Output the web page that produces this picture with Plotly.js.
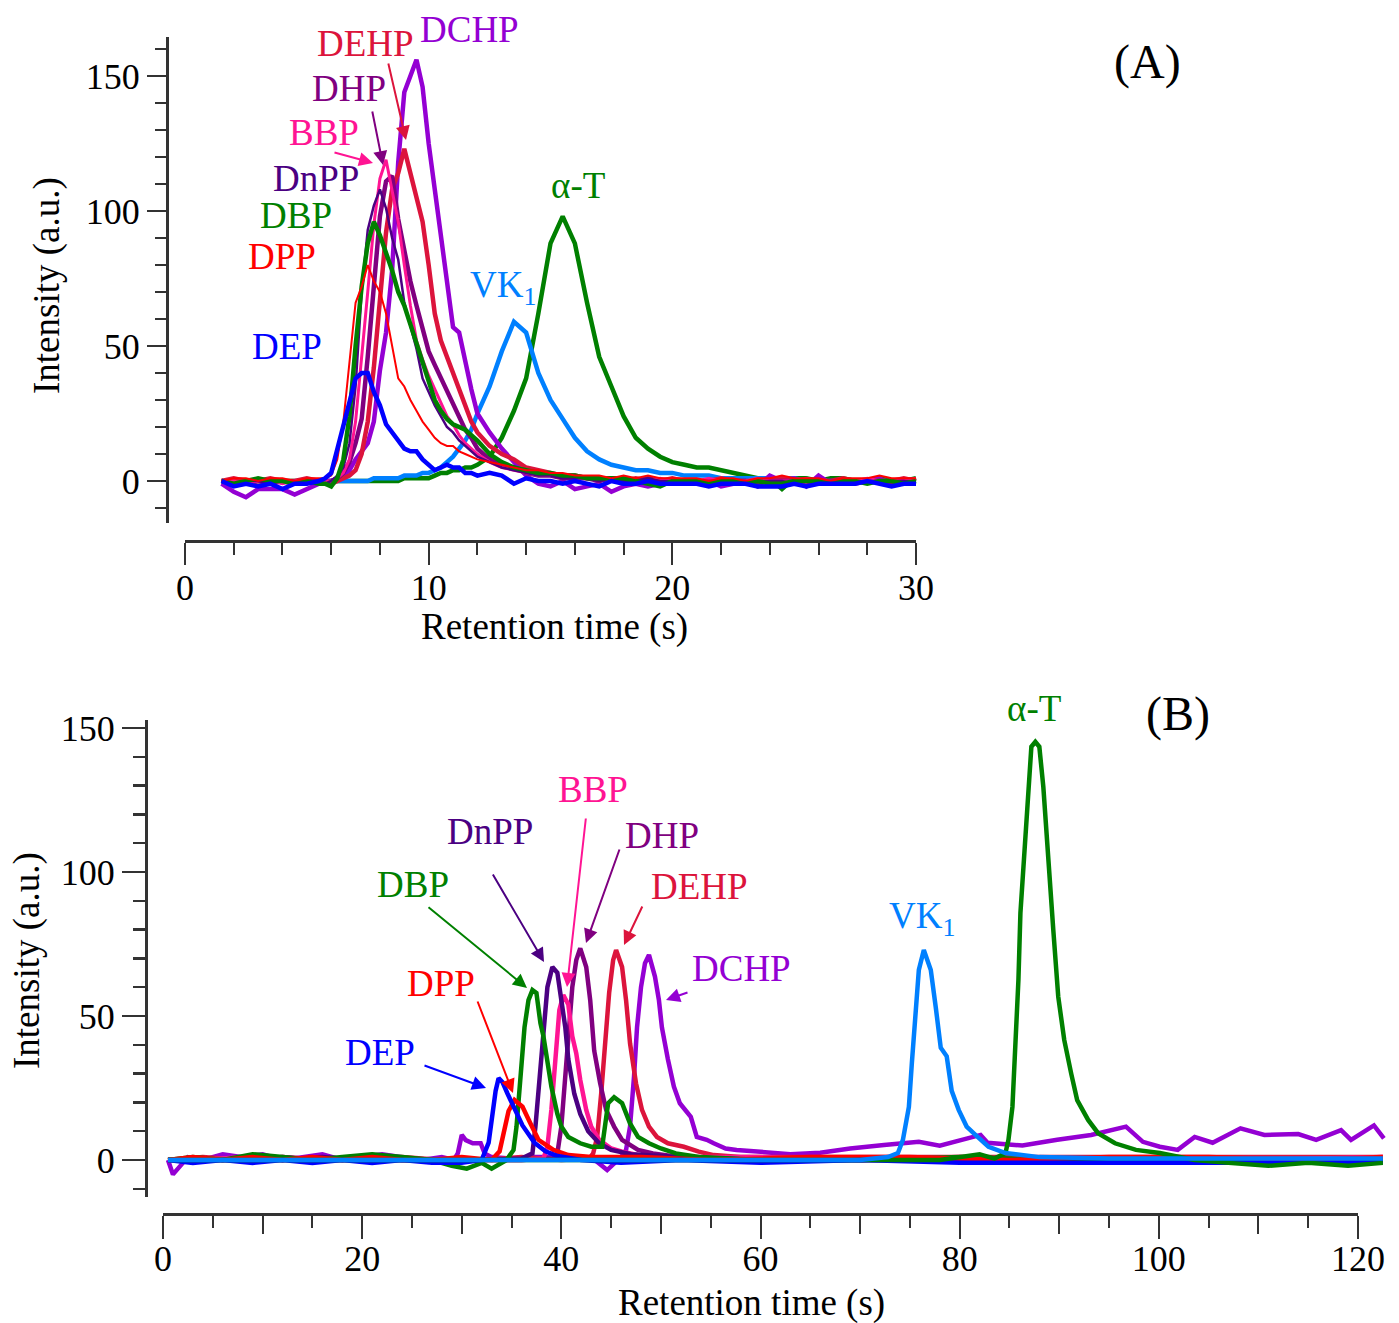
<!DOCTYPE html>
<html><head><meta charset="utf-8">
<script src="https://cdn.plot.ly/plotly-3.0.1.min.js"></script>
<style>html,body{margin:0;padding:0;background:#fff}</style>
</head><body><div id="chart" style="width:1399px;height:1323px"></div>
<script>
// ---------- Panel A data (retention time, s) ----------
const tA = [1.5,2,2.5,3,3.5,4,4.5,5,5.5,
 5.75,6,6.25,6.5,6.75,7,7.25,7.5,7.75,8,8.25,8.5,8.75,9,9.25,9.5,9.75,10,10.25,10.5,10.75,11,11.25,11.5,11.75,12,
 12.5,13,13.5,14,14.5,15,15.5,16,16.5,17,17.5,18,18.5,19,19.5,20,20.5,21,21.5,22,22.5,23,23.5,24,24.5,25,25.5,26,26.5,27,27.5,28,28.5,29,29.5,30];
const depA = [0,-2,-1,-2,-1,-3,-1,-1,0,
 1,3,12,20,30,38,40,40,33,28,21,18,15,12,11,11,8,6,4,5,6,5,5,3,3,2,
 3,2,-1,1,0,0,-1,0,-1,-2,0,-1,-1,0,-1,-1,-1,-1,-2,-1,-1,-1,-2,-2,-2,-1,-2,-1,-1,-1,-1,0,-1,-2,-1,-1];
const dppA = [0,1,1,0,1,1,0,1,1,
 1,2,8,22,45,66,72,80,74,70,62,50,38,35,30,26,22,19,16,14,13,13,11,10,9,8,
 7,6,5,4,4,3,3,2,2,2,1,2,1,2,1,1,1,1,0,1,1,0,1,1,2,1,1,1,0,1,1,1,2,1,1,1];
const dbpA = [0,-1,0,1,0,0,-1,0,-1,
 -1,-2,1,8,24,50,72,88,96,91,85,78,70,65,58,51,43,36,30,26,23,21,20,19,17,15,
 10,7,5,4,3,3,2,2,1,1,1,1,0,-1,-2,0,0,0,-1,0,0,-1,0,-1,-1,0,0,0,-1,0,0,-1,0,0,-1,0];
const dnppA = [0,-1,0,0,-1,0,0,-1,0,
 -1,0,2,5,14,35,70,93,102,108,101,90,82,66,57,49,38,33,28,24,20,18,15,13,11,9,
 7,5,4,3,2,2,1,1,1,0,1,0,0,1,0,0,-1,0,0,0,0,-1,0,0,0,-1,0,0,0,0,-1,0,0,0,0,0];
const bbpA = [0,0,-1,0,0,-1,0,0,-1,
 0,0,1,3,8,22,45,70,95,112,119,108,96,80,65,52,45,39,34,29,24,21,17,14,12,10,
 7,5,4,3,2,2,2,1,1,1,0,1,0,0,1,0,0,0,1,0,0,0,1,0,0,0,1,0,0,0,0,1,0,0,0,1];
const dhpA = [0,-1,-1,0,-1,0,-1,0,0,
 -1,0,1,3,7,14,23,46,72,98,111,113,97,85,74,65,56,48,43,38,33,28,23,19,16,12,
 8,6,5,3,2,2,1,1,1,0,1,0,0,1,0,0,0,-1,0,0,0,0,-1,0,0,0,0,-1,0,0,0,0,0,-1,0,0];
const dehpA = [0,1,0,0,1,0,0,1,0,
 0,-1,0,1,2,4,10,22,42,67,92,108,114,123,114,104,96,80,62,52,46,41,34,28,22,18,
 13,10,8,5,4,3,2,2,1,1,1,0,1,0,0,1,0,0,0,1,0,0,0,0,1,0,0,0,0,1,0,0,0,0,1,0];
const dchpA = [-1,-4,-6,-3,-3,-3,-5,-3,-1,
 0,0,1,2,4,8,11,14,22,41,55,78,118,144,150,156,146,125,108,90,74,57,55,44,34,25,
 18,12,7,2,-1,-2,0,-3,-2,-1,-4,-2,-1,-2,-1,0,-1,-1,0,-2,-1,0,-2,2,0,1,-2,2,-1,0,-1,0,1,-1,0,0];
const vk1A = [null,null,null,null,null,null,null,null,null,
 0,0,0,0,0,0,0,0,1,1,1,1,1,2,2,2,3,3,4,5,7,9,12,15,19,25,
 35,48,59,55,40,30,23,16,11,8,6,5,4,4,3,3,2,2,2,1,1,1,1,1,1,1,0,0,0,0,0,0,0,0,0,0];
const atA = [0,0,0,0,0,0,0,0,0,
 0,0,0,0,0,0,0,0,0,0,0,0,0,1,1,1,1,1,2,3,3,4,4,5,5,6,
 9,16,26,38,62,88,98,88,66,46,35,24,16,12,9,7,6,5,5,4,3,2,1,1,-3,1,1,0,1,1,0,0,1,0,0,1];

// ---------- Panel B data ----------
const depBx = [0.5,3,6,9,12,15,18,21,24,27,30,32,32.7,33.1,33.4,33.7,34.1,34.6,35.0,35.4,36.1,37.3,38.4,39.5,42,46,52,60,70,80,90,100,110,122.5];
const depBy = [0,-1,0,-1,0,-1,0,-1,0,-1,-1,0,6,17,24,28.4,27,23,20,17,12,6,3,1.5,0,-1,0,-1,0,-1,-1,-1,-1,-1];
const dppBx = [0.5,3,6,9,12,15,18,21,24,27,30,33,33.8,34.2,34.7,35.3,35.7,36.1,36.9,37.7,39.2,40.7,43,48,55,65,75,85,95,105,115,122.5];
const dppBy = [0,1,0,1,0,1,0,1,0,0,1,0,3,9,17,20.8,19.5,18.5,12.7,7,3.5,1.7,1,1,0,1,1,0,1,1,0,1];
const dbpBx = [0.5,3,6,9,12,15,18,21,24,27,29,30.5,32,33,34.5,35.2,35.5,35.9,36.3,36.7,37.1,37.5,37.9,38.2,38.6,39.0,39.6,40.0,40.7,41.9,43.0,44.1,44.7,45.3,46.1,46.9,47.7,48.8,50.0,51.5,54,60,70,80,90,100,110,122.5];
const dbpBy = [0,1,0,2,1,0,1,2,1,0,-2,-3,-1,-3,0,3.5,11.6,29,46,55.5,59,58,47.5,43,35,25.5,16,11.6,8,5.8,4.6,4.6,19.7,21.8,19.7,12.7,8,5.8,4,2.3,1,0,0,1,0,-1,0,-1];
const dnppBx = [0.5,4,8,12,16,20,24,28,32,36,37.1,37.4,37.8,38.2,38.6,39.1,39.6,40.0,40.4,40.7,41.3,41.9,42.7,43.8,45,47,52,60,70,80,90,100,110,122.5];
const dnppBy = [0,0,0,0,1,0,0,0,0,0.5,2.3,11.6,29,46,60,67,65,55.5,46,35,23,16,10,5.8,3.5,2,1,0,0,0,0,0,0,0];
const bbpBx = [0.5,4,8,12,16,20,24,28,32,36,38.2,38.6,39.0,39.4,39.8,40.2,40.7,41.1,41.5,41.9,42.5,43.0,43.8,45,46.1,48,52,60,70,80,90,100,110,122.5];
const bbpBy = [0,0,1,0,0,1,0,0,0,0,0.5,4.6,17.4,35,52,57.3,54,43,37,27.8,17.4,11.6,7,4,2.9,1.5,1,1,0,1,0,1,0,1];
const dhpBx = [0.5,4,8,12,16,20,24,28,32,36,39.2,39.6,40.0,40.4,40.7,41.1,41.5,41.9,42.5,42.9,43.3,43.9,44.5,45.3,46.1,47.7,49.2,52,60,70,80,90,100,110,122.5];
const dhpBy = [0,0,0,1,0,0,0,0,0,0,0.5,2.3,11.6,29,46,60,69.4,73.5,67,55.5,38,26.6,17.4,11.6,7,3.5,2.3,1,0,0,0,0,0,0,0];
const dehpBx = [0.5,4,8,12,16,20,24,28,32,36,40,42.8,43.2,43.6,44.0,44.4,44.8,45.2,45.5,46.1,46.5,46.9,47.5,48.1,48.8,49.6,50.7,52.3,53.8,55.3,58,65,75,85,95,105,115,122.5];
const dehpBy = [0,1,0,1,0,0,1,0,0,1,0,0.5,2.3,8,23,40.5,58,69.4,72.9,67,55.5,40.5,26.6,17.4,11.6,8,5.8,4.6,2.9,1.7,1,1,1,1,1,1,1,1];
const dchpBx = [0.5,1,2.5,4,6,8,10,12,14,16,18,20,22,24,26,28,29.2,29.6,30.0,30.4,31.1,31.9,32.3,33,35,37,39,41,43,44.6,46,46.5,46.9,47.3,47.6,48.0,48.4,48.8,49.4,49.8,50.1,50.7,51.3,51.9,52.5,53.0,53.6,54.6,55.3,56.5,57.6,60,63,66,69,72.4,75.9,78,80,82.1,82.8,86.3,89.8,93.2,96.7,98.4,100.1,101.9,103.6,105.4,108.2,110.6,114,115.8,118.3,119.3,121.6,122.6];
const dchpBy = [0,-5,1,0,2,1,2,0,1,2,0,1,2,1,0,1,0,2.3,8.7,6.9,5.8,5.8,2.3,1,0.5,1,1,0.5,1,-3.5,1,3.5,11.6,29,46,60,68.3,71.2,63.7,55.5,46,35,25.5,19.7,17.4,15,8,7,5.8,4,3.5,3,2,2.5,4,5.2,6.3,5,7,8.7,6,5,7,8.7,11.6,6.3,4.6,3.5,8,6,11,8.7,9,7,10.4,7,12,7.5];
const vk1Bx = [0.5,10,20,30,40,50,60,70,72.8,73.8,74.3,74.9,75.2,75.6,75.9,76.4,77.1,77.6,78.1,78.7,79.2,79.9,80.7,81.8,82.9,84.6,88,95,105,115,122.5];
const vk1By = [0,0,0,0,0,0,0,0,1,2.4,7,18.4,33.7,51,66,72.9,66,53,39,36,24,17.4,11.6,8,4.6,2.4,1,0.5,0.5,0.5,0.5];
const atBx = [0.5,10,20,30,40,50,60,70,78,82,83.5,84.6,84.9,85.3,85.6,85.9,86.1,86.5,86.8,87.2,87.6,88.0,88.4,88.9,89.4,89.9,90.5,91.2,91.8,92.9,93.9,95.6,97.7,100.1,103.6,107,111,115,119,122.5];
const atBy = [0,0,0,0,0,0,0,0,0,2,0.5,2.4,7,18.5,39.3,62.5,85.7,108.8,126,143.5,145.2,143.5,129.6,103,80,56.7,41.7,30,20.8,13.9,9.3,5.8,3.5,2.4,0,-1,-2,-1,-2,-1];

// ---------- styling ----------
const C = {DEP:'#0000FF', DPP:'#FF0000', DBP:'#008000', DnPP:'#4B0082', BBP:'#FF1493',
           DHP:'#800080', DEHP:'#DC143C', DCHP:'#9400D3', VK1:'#0080FF', AT:'#008000'};
const W = 1399, H = 1323;
const fx = p => p / W, fy = p => 1 - p / H;
const FONT = '"Liberation Serif", "Times New Roman", serif';
const AX = '#333';

function tr(x, y, color, width, xa, ya) {
  return {x:x, y:y, type:'scatter', mode:'lines', line:{color:color, width:width},
          xaxis:xa, yaxis:ya, hoverinfo:'skip', showlegend:false};
}
const traces = [
  tr(tA, atA, C.AT, 4.5, 'x', 'y'),
  tr(tA, vk1A, C.VK1, 4.5, 'x', 'y'),
  tr(tA, dchpA, C.DCHP, 4.5, 'x', 'y'),
  tr(tA, dehpA, C.DEHP, 4.5, 'x', 'y'),
  tr(tA, dhpA, C.DHP, 4.5, 'x', 'y'),
  tr(tA, bbpA, C.BBP, 3, 'x', 'y'),
  tr(tA, dnppA, C.DnPP, 2.5, 'x', 'y'),
  tr(tA, dbpA, C.DBP, 4.5, 'x', 'y'),
  tr(tA, dppA, C.DPP, 2, 'x', 'y'),
  tr(tA, depA, C.DEP, 4.5, 'x', 'y'),
  tr(dchpBx, dchpBy, C.DCHP, 4.5, 'x3', 'y2'),
  tr(dehpBx, dehpBy, C.DEHP, 4.5, 'x3', 'y2'),
  tr(dhpBx, dhpBy, C.DHP, 4.5, 'x3', 'y2'),
  tr(bbpBx, bbpBy, C.BBP, 4.5, 'x3', 'y2'),
  tr(dnppBx, dnppBy, C.DnPP, 4.5, 'x3', 'y2'),
  tr(dbpBx, dbpBy, C.DBP, 4.5, 'x3', 'y2'),
  tr(dppBx, dppBy, C.DPP, 4.5, 'x3', 'y2'),
  tr(depBx, depBy, C.DEP, 4.5, 'x3', 'y2'),
  tr(atBx, atBy, C.AT, 4.5, 'x3', 'y2'),
  tr(vk1Bx, vk1By, C.VK1, 4.5, 'x3', 'y2'),
  // empty traces so the stand-alone display axes are drawn
  {x:[0,30], y:[null,null], xaxis:'x2', yaxis:'y', mode:'lines', hoverinfo:'skip', showlegend:false},
  {x:[0,120], y:[null,null], xaxis:'x4', yaxis:'y2', mode:'lines', hoverinfo:'skip', showlegend:false},
  {x:[0,120], y:[null,null], xaxis:'x5', yaxis:'y2', mode:'lines', hoverinfo:'skip', showlegend:false}
];

const pxA = (916 - 185) / 30;     // px per second, panel A
const pxB = (1358 - 163) / 120;   // px per second, panel B
const tickFont = {family: FONT, size: 36, color: '#000'};
function dispX(domain, range, pos, dtick, len, minor, labels, standoff) {
  return {domain:domain, range:range, anchor:'free', position:pos, showline:true, linecolor:AX, linewidth:3,
          ticks:'outside', tick0:0, dtick:dtick, ticklen:len, tickwidth:2, tickcolor:AX,
          showticklabels:labels, tickfont:tickFont, ticklabelstandoff:standoff || 0,
          showgrid:false, zeroline:false, fixedrange:true,
          minor: minor ? {dtick:minor[0], tick0:0, ticklen:minor[1], tickwidth:2, tickcolor:AX, ticks:'outside', showgrid:false} : undefined};
}
function dispY(domain, range, pos, len, mlen) {
  return {domain:domain, range:range, anchor:'free', position:pos, side:'left', showline:true, linecolor:AX, linewidth:3,
          ticks:'outside', tick0:0, dtick:50, ticklen:len, tickwidth:2.5, tickcolor:AX,
          tickfont:tickFont, showgrid:false, zeroline:false, fixedrange:true,
          minor:{dtick:10, tick0:0, ticklen:mlen, tickwidth:2.5, tickcolor:AX, ticks:'outside', showgrid:false}};
}

const layout = {
  width: W, height: H, margin:{l:0, r:0, t:0, b:0},
  paper_bgcolor:'#fff', plot_bgcolor:'rgba(0,0,0,0)', showlegend:false,
  font:{family:FONT, color:'#000'},
  // panel A
  xaxis:{domain:[fx(185 - 0.6*pxA), fx(916 + 0.6*pxA)], range:[-0.6, 30.6], visible:false, anchor:'y', fixedrange:true},
  yaxis: dispY([fy(522.85), fy(36.85)], [-15.5, 164.5], fx(167), 19, 11),
  xaxis2: dispX([fx(185), fx(916)], [0, 30], fy(541), 10, 22, [2, 12], true, -8),
  // panel B
  xaxis3:{domain:[fx(163 - 1*pxB), fx(163 + 123.5*pxB)], range:[-1, 123.5], visible:false, anchor:'y2', fixedrange:true},
  yaxis2: dispY([fy(1197), fy(720)], [-12.85, 152.78], fx(146), 23, 12),
  xaxis4: dispX([fx(163), fx(1358)], [0, 120], fy(1214), 10, 18, [5, 12], false),
  xaxis5: Object.assign(dispX([fx(163), fx(1358)], [0, 120], fy(1214), 20, 23, null, true, -11), {overlaying:'x4'}),
  annotations: []
};

// text labels (pixel centre positions)
const labels = [
  ['DCHP', C.DCHP, 469.5, 30], ['DEHP', C.DEHP, 365.5, 44], ['DHP', C.DHP, 348.5, 89],
  ['BBP', C.BBP, 324, 133], ['DnPP', C.DnPP, 316, 179], ['DBP', C.DBP, 295.5, 216],
  ['DPP', C.DPP, 282, 256], ['DEP', C.DEP, 286.5, 347], ['α-T', C.AT, 578, 185],
  ['VK<sub>1</sub>', C.VK1, 503, 287],
  ['α-T', C.AT, 1034, 708], ['VK<sub>1</sub>', C.VK1, 922, 918], ['BBP', C.BBP, 593, 789],
  ['DnPP', C.DnPP, 490, 831], ['DHP', C.DHP, 662, 835], ['DEHP', C.DEHP, 699, 886],
  ['DBP', C.DBP, 413, 884], ['DCHP', C.DCHP, 742, 968], ['DPP', C.DPP, 441, 983],
  ['DEP', C.DEP, 380, 1052]
];
labels.forEach(l => layout.annotations.push({text:l[0], x:fx(l[2]), y:fy(l[3]), xref:'paper', yref:'paper',
  xanchor:'center', yanchor:'middle', showarrow:false, font:{family:FONT, size:37, color:l[1]}}));
[['(A)', 1147, 62], ['(B)', 1178, 714]].forEach(l => layout.annotations.push({text:l[0], x:fx(l[1]), y:fy(l[2]),
  xref:'paper', yref:'paper', xanchor:'center', yanchor:'middle', showarrow:false, font:{family:FONT, size:48, color:'#000'}}));
// axis titles
[['Retention time (s)', 554, 627, 0], ['Retention time (s)', 751, 1303, 0],
 ['Intensity (a.u.)', 47, 286, -90], ['Intensity (a.u.)', 27, 961, -90]].forEach(l => layout.annotations.push({
  text:l[0], x:fx(l[1]), y:fy(l[2]), xref:'paper', yref:'paper', xanchor:'center', yanchor:'middle',
  textangle:l[3], showarrow:false, font:{family:FONT, size:37, color:'#000'}}));
// arrows: [color, tailX, tailY, headX, headY] in pixels
const arrows = [
  [C.DEHP, 388, 62, 406, 140], [C.DHP, 372, 110, 383, 165], [C.BBP, 333, 152, 373, 163],
  [C.DEP, 423, 1065, 486, 1088], [C.DPP, 477, 1000, 513, 1093], [C.DBP, 427, 906, 527, 988],
  [C.DnPP, 492, 873, 544, 962], [C.BBP, 586, 817, 567, 987], [C.DHP, 620, 848, 586, 943],
  [C.DEHP, 643, 905, 624, 945], [C.DCHP, 689, 992, 666, 1000]
];
arrows.forEach(a => layout.annotations.push({text:'', x:fx(a[3]), y:fy(a[4]), xref:'paper', yref:'paper',
  ax:a[1]-a[3], ay:a[2]-a[4], showarrow:true, arrowhead:2, arrowsize:1.4, arrowwidth:2, arrowcolor:a[0],
  standoff:0, startstandoff:0}));

Plotly.newPlot('chart', traces, layout, {displayModeBar:false, staticPlot:true});
</script></body></html>
